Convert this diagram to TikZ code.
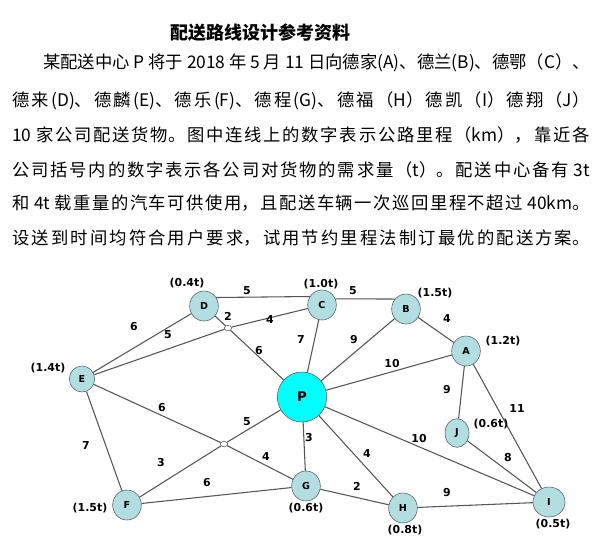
\documentclass[tikz,border=0pt]{standalone}
\usepackage{fontspec}
\setsansfont{DejaVu Sans}
\newfontfamily\cjk{Noto Sans CJK SC}
\XeTeXlinebreaklocale "zh"
\XeTeXlinebreakskip=0pt plus 4pt
\usetikzlibrary{shapes.geometric}

\definecolor{sitefill}{RGB}{178,222,226}
\definecolor{hubfill}{RGB}{0,255,255}
\definecolor{rim}{RGB}{80,90,90}
\definecolor{roadgray}{RGB}{85,85,85}

\begin{document}
\begin{tikzpicture}[
  x=0.75pt, y=-0.75pt,
  site/.style = {draw=rim, fill=sitefill, ellipse, inner sep=0pt,
                 minimum width=21.5pt, minimum height=22.5pt,
                 font=\sffamily\bfseries\fontsize{7.2}{8}\selectfont},
  hub/.style  = {site, fill=hubfill, minimum width=37pt, minimum height=37.5pt,
                 font=\sffamily\bfseries\fontsize{10}{12}\selectfont},
  via/.style  = {draw=rim, fill=white, ellipse, inner sep=0pt,
                 minimum width=5.5pt, minimum height=4pt},
  km/.style   = {inner sep=0pt, font=\sffamily\bfseries\fontsize{8.2}{10}\selectfont},
  ton/.style  = {inner sep=0pt, font=\sffamily\bfseries\fontsize{8.2}{10}\selectfont},
  road/.style = {draw=roadgray, line width=0.8pt},
  txt/.style  = {anchor=west, inner sep=0pt, text width=433pt, align=justify,
                 font=\cjk\fontsize{13}{15}\selectfont},
]
  \useasboundingbox (0,0) rectangle (605,550);

  % ── title and task text (each printed line justified on its own) ──────
  \node[font=\cjk\bfseries\fontsize{13.5}{16}\selectfont] (title) at (260,33) {配送路线设计参考资料};
  \node[txt, text width=410pt] (t1) at (43,63)
    {\parfillskip=0pt 某配送中心 P 将于 2018 年 5 月 11 日向德家(A)、德兰(B)、德鄂（C）、\par};
  \node[txt] (t2) at (12,101)
    {\parfillskip=0pt 德来(D)、德麟(E)、德乐(F)、德程(G)、德福（H）德凯（I）德翔（J）\par};
  \node[txt] (t3) at (12,135)
    {\parfillskip=0pt 10 家公司配送货物。图中连线上的数字表示公路里程（km），靠近各\par};
  \node[txt] (t4) at (12,170)
    {\parfillskip=0pt 公司括号内的数字表示各公司对货物的需求量（t）。配送中心备有 3t\par};
  \node[txt] (t5) at (12,203)
    {\parfillskip=0pt 和 4t 载重量的汽车可供使用，且配送车辆一次巡回里程不超过 40km。\par};
  \node[txt] (t6) at (12,238)
    {\parfillskip=0pt 设送到时间均符合用户要求，试用节约里程法制订最优的配送方案。\par};

  % ── companies, centre and road junctions ──────────────────────────────
  \node[hub]  (P) at (302,397) {P};
  \node[site] (A) at (466,351) {A};
  \node[site] (B) at (406,309) {B};
  \node[site] (C) at (322,305) {C};
  \node[site] (D) at (204,306) {D};
  \node[site, minimum width=19pt, minimum height=19.5pt] (E) at (82,379) {E};
  \node[site] (F) at (127,505) {F};
  \node[site] (G) at (306,486) {G};
  \node[site] (H) at (403,508) {H};
  \node[site, minimum width=24pt] (I) at (549,502) {I};
  \node[site, minimum width=18pt, minimum height=21.5pt] (J) at (457,433) {J};
  \node[via] (j1) at (228,328) {};
  \node[via] (j2) at (224,444) {};

  % ── roads ─────────────────────────────────────────────────────────────
  \draw[road] (D.35) -- (C.145);
  \draw[road] (C.25) -- (B.138);
  \draw[road] (D) -- (E);
  \draw[road] (E) -- (j1) -- (C);
  \draw[road] (D) -- (j1) -- (P);
  \draw[road] (C) -- (P);
  \draw[road] (B) -- (P);
  \draw[road] (B) -- (A);
  \draw[road] (A) -- (P);
  \draw[road] (A) -- (J);
  \draw[road] (A) -- (I);
  \draw[road] (J) -- (I);
  \draw[road] (E) -- (j2) -- (G);
  \draw[road] (P) -- (j2) -- (F);
  \draw[road] (E) -- (F);
  \draw[road] (F) -- (G);
  \draw[road] (P) -- (G);
  \draw[road] (P) -- (H);
  \draw[road] (P) -- (I);
  \draw[road] (G) -- (H);
  \draw[road] (H) -- (I);

  % ── road lengths (km) ─────────────────────────────────────────────────
  \node[km] (kDC) at (247,291) {5};
  \node[km] (kCB) at (353,291) {5};
  \node[km] (kDE) at (134,327) {6};
  \node[km] (kEj) at (168,335) {5};
  \node[km] (kjC) at (270,320) {4};
  \node[km] (kDj) at (228,316) {2};
  \node[km] (kjP) at (259,351) {6};
  \node[km] (kCP) at (301,340) {7};
  \node[km] (kBP) at (354,340) {9};
  \node[km] (kBA) at (447,319) {4};
  \node[km] (kAP) at (392,364) {10};
  \node[km] (kAJ) at (447,390) {9};
  \node[km] (kAI) at (517,409) {11};
  \node[km] (kEk) at (162,408) {6};
  \node[km] (kkG) at (266,457) {4};
  \node[km] (kPk) at (247,422) {5};
  \node[km] (kkF) at (161,463) {3};
  \node[km] (kEF) at (86,446)  {7};
  \node[km] (kFG) at (207,483) {6};
  \node[km] (kPG) at (309,438) {3};
  \node[km] (kPH) at (367,454) {4};
  \node[km] (kPI) at (419,439) {10};
  \node[km] (kJI) at (508,458) {8};
  \node[km] (kGH) at (357,486) {2};
  \node[km] (kHI) at (447,493) {9};

  % ── demand of each company (t) ────────────────────────────────────────
  \node[ton] (dA) at (503,341) {(1.2t)};
  \node[ton] (dB) at (435,293) {(1.5t)};
  \node[ton] (dC) at (321,284) {(1.0t)};
  \node[ton] (dD) at (187,283) {(0.4t)};
  \node[ton] (dE) at (48,368)  {(1.4t)};
  \node[ton] (dF) at (90,508)  {(1.5t)};
  \node[ton] (dG) at (306,508) {(0.6t)};
  \node[ton] (dH) at (405,530) {(0.8t)};
  \node[ton] (dI) at (553,524) {(0.5t)};
  \node[ton] (dJ) at (491,424) {(0.6t)};

\end{tikzpicture}
\end{document}
